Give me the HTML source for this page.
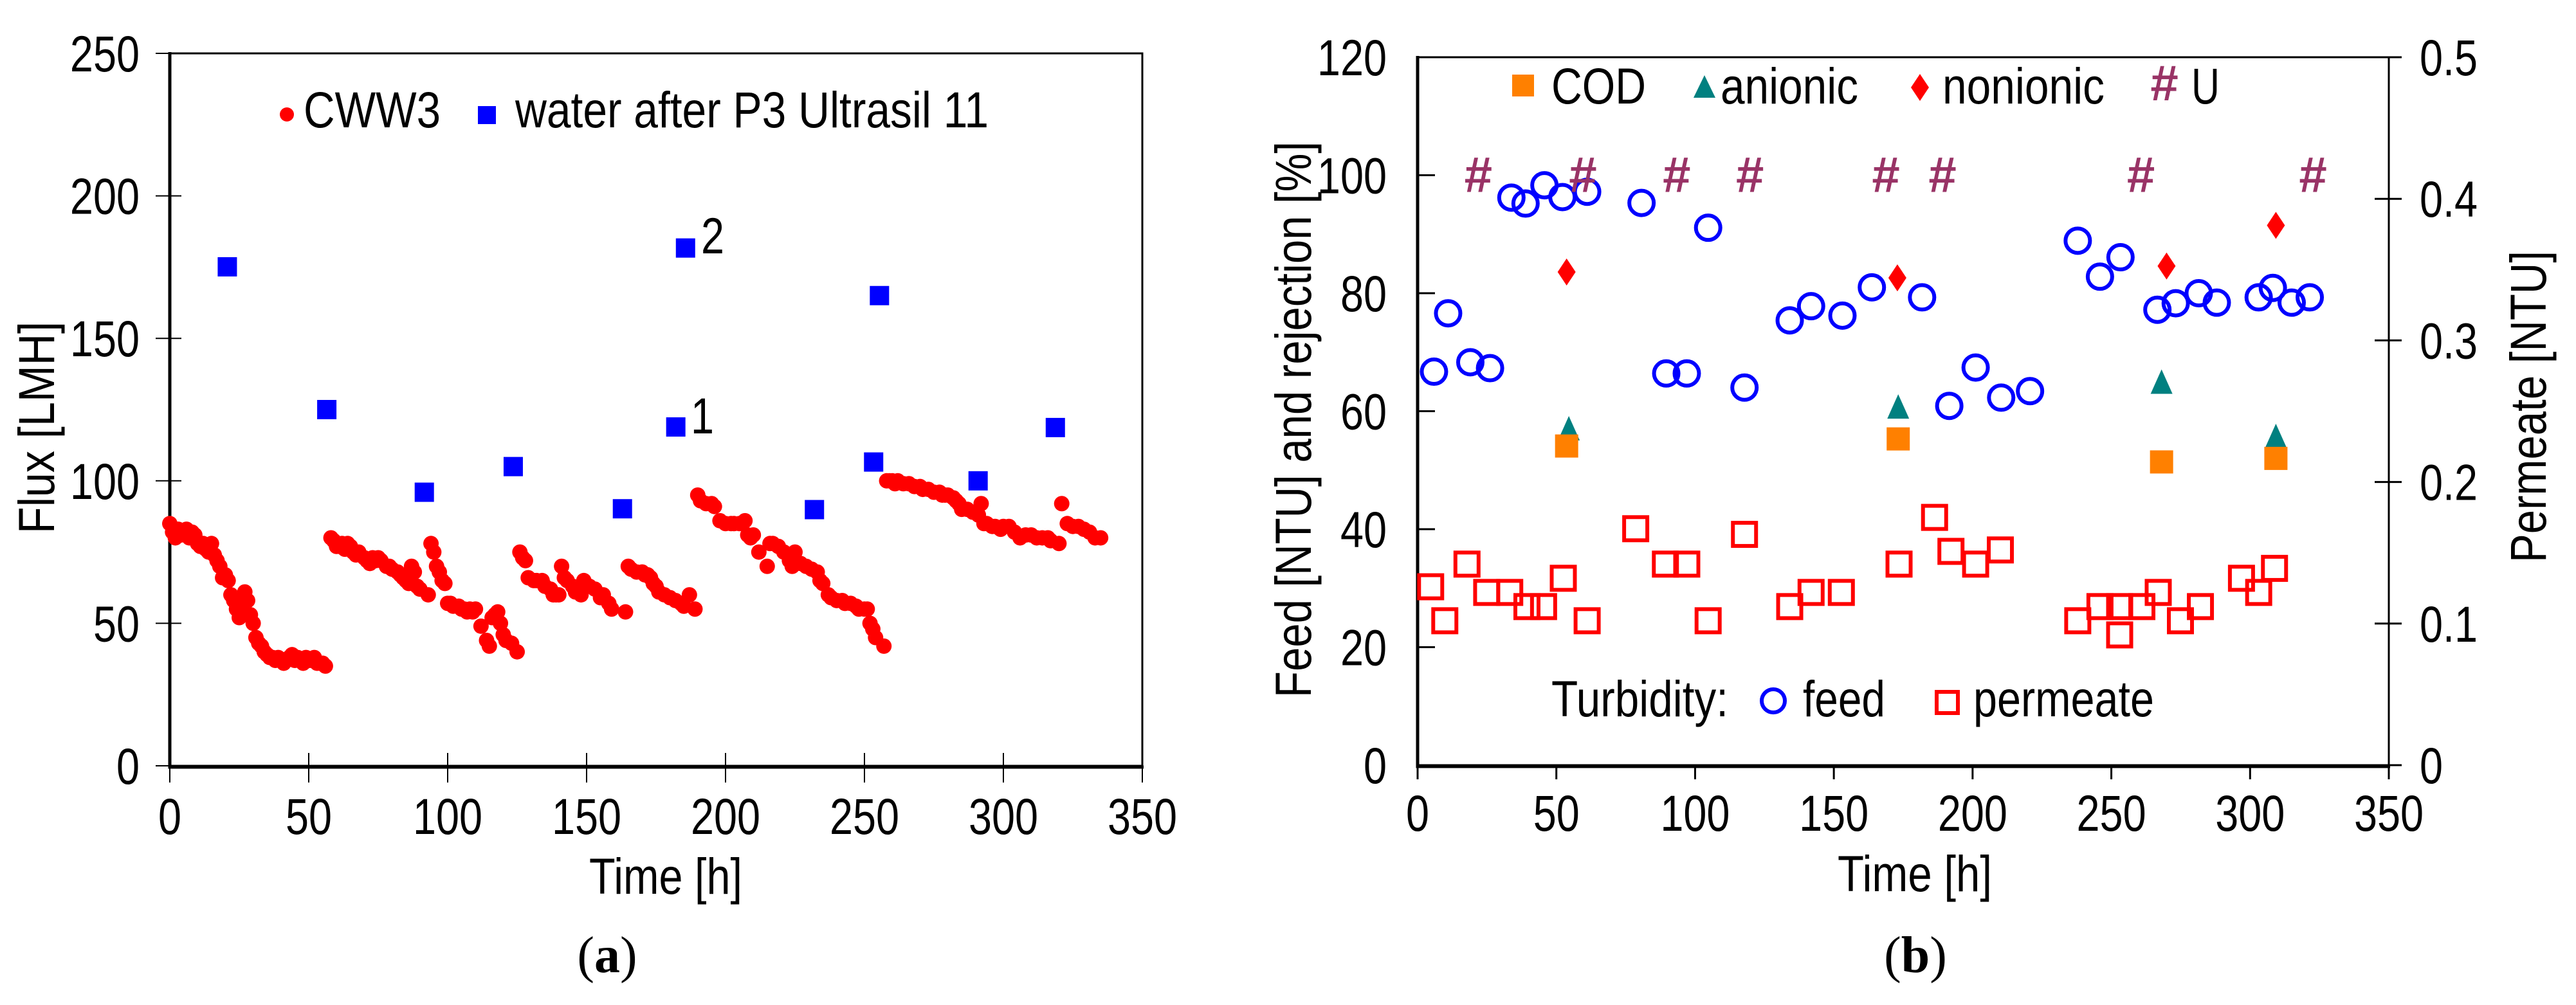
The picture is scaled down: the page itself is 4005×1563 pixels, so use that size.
<!DOCTYPE html>
<html><head><meta charset="utf-8"><style>
html,body{margin:0;padding:0;background:#fff;}
svg{display:block;font-family:"Liberation Sans",Arial,sans-serif;}
</style></head><body>
<svg id="fig" width="4005" height="1563" viewBox="0 0 4005 1563" xmlns="http://www.w3.org/2000/svg">
<rect x="0" y="0" width="4005" height="1563" fill="#fff"/>
<g id="gA"></g>
<g id="gB"></g>
</svg>
<script>
// ---------- Chart A data ----------
const aXTicks = [0,50,100,150,200,250,300,350];
const aYTicks = [0,50,100,150,200,250];
const waterTime = [20.7,56.5,91.6,123.6,162.9,182.1,185.6,232.0,253.3,255.4,290.9,318.7];
const waterFlux = [175.1,125.0,96.0,105.0,90.2,118.9,181.7,89.9,106.6,165.0,100.0,118.7];
const cwwTime = [0,1,2,3,4,5,6,7,8,9,10,11,12,13,14,15,16,17,18,19,20,21,22,23,24,25,26,27,28,29,30,31,32,33,34,35,36,37,38,39,40,41,42,43,44,45,46,47,48,49,50,51,52,53,54,55,56,
58,59,60,61,62,63,64,65,66,67,68,70,71,72,73,74,75,76,78,79,80,82,83,84,85,86,87,88,89,90,
93,94,95,96,97,98,99,100,101,102,104,105,106,107,108,109,110,112,114,115,116,117,118,119,120,121,123,
125,126,127,128,129,131,132,134,135,137,138,139,140,141,142,143,145,146,148,149,151,153,155,156,158,159,
164,165,166,168,170,171,172,173,174,175,176,178,180,182,184,185,187,
189,190,191,193,195,196,198,200,202,203,205,207,208,209,210,212,215,216,217,219,221,223,224,225,227,229,231,233,234,235,237,238,240,242,243,245,247,248,250,251,252,253,254,
257,258,259,260,261,262,264,266,268,270,271,273,275,277,278,279,280,282,283,284,285,287,289,291,292,293,294,296,297,299,300,302,304,306,308,310,312,314,316,317,
320,321,323,325,327,329,331,333,335];
const cwwFlux = [85,82,80,83,81,82,83,80,82,81,78,77,78,76,75,78,74,72,70,66,67,65,60,58,55,52,57,61,58,53,50,45,43,42,40,39,38,38,37,38,37,36,37,38,39,37,38,37,36,38,37,37,38,36,36,36,35,
80,79,77,77,78,76,78,77,75,74,75,73,72,71,73,72,73,72,70,70,69,68,67,66,65,64,70,68,63,62,60,
78,75,70,68,65,64,57,57,56,56,55,55,54,55,54,55,49,44,42,52,53,54,50,46,44,43,40,
75,73,72,66,65,65,65,63,62,60,60,60,70,66,65,63,61,60,65,63,62,59,60,57,55,54,
70,69,68,68,67,67,66,64,63,61,60,59,58,57,56,60,55,
95,93,92,92,91,86,85,85,85,85,86,81,80,81,75,70,78,78,77,75,72,70,75,71,70,69,68,65,64,60,59,58,58,57,57,56,55,55,55,50,48,45,42,
100,100,100,99,100,99,99,98,98,97,97,96,96,95,95,95,94,93,92,90,90,89,88,92,85,85,84,84,83,84,84,82,80,81,81,80,80,80,79,78,
92,85,84,84,83,82,80,80,80];

// ---------- Chart B data ----------
const bXTicks = [0,50,100,150,200,250,300,350];
const bYTicks = [0,20,40,60,80,100,120];
const bY2Ticks = [0,0.1,0.2,0.3,0.4,0.5];
const feedTime = [5.9,11.0,19.0,26.1,33.8,38.9,45.7,52.2,61.1,80.7,89.6,97.0,104.7,117.8,134.1,141.8,153.1,163.7,181.8,191.6,201.1,210.3,220.7,237.9,245.9,253.3,266.6,273.2,281.5,288.0,303.1,308.2,315.0,321.5];
const feedNTU = [66.7,76.6,68.3,67.3,96.2,95.2,98.3,96.3,97.2,95.3,66.4,66.4,91.1,64.0,75.4,77.8,76.2,81.0,79.3,60.9,67.4,62.3,63.4,88.9,82.8,86.1,77.2,78.3,80.0,78.4,79.3,80.9,78.4,79.3];
const permTime = [4.7,9.8,17.8,24.9,33.2,39.4,45.4,52.5,61.1,78.6,89.3,97.0,104.7,117.8,134.1,141.8,152.7,173.5,186.3,192.2,201.1,210.0,237.9,245.9,253.0,253.0,261.0,266.9,274.9,282.1,296.9,303.1,308.8];
const permNTU = [0.126,0.102,0.142,0.122,0.122,0.112,0.112,0.132,0.102,0.167,0.142,0.142,0.102,0.163,0.112,0.122,0.122,0.142,0.175,0.151,0.142,0.152,0.102,0.112,0.112,0.092,0.112,0.122,0.102,0.112,0.132,0.122,0.139];
const codTime = [53.7,173.2,268.1,309.3];
const codRej = [54.1,55.3,51.4,52.0];
const anionicTime = [54.5,173.2,268.1,309.3];
const anionicRej = [57.0,60.7,64.9,55.7];
const nonionicTime = [53.7,172.9,269.9,309.3];
const nonionicRej = [83.6,82.6,84.6,91.5];
const uTime = [21.6,59.3,93.1,119.5,168.5,188.9,260.4,322.4];
const uRej = [100,100,100,100,100,100,100,100];

const NS = "http://www.w3.org/2000/svg";
function mk(parent, tag, attrs){
  const e = document.createElementNS(NS, tag);
  for (const k in attrs) e.setAttribute(k, attrs[k]);
  parent.appendChild(e);
  return e;
}
function txt(parent, x, y, s, anchor, size, sx, rot){
  const t = mk(parent, "text", {x:0, y:0, "font-size":size, "text-anchor":anchor, fill:"#000",
    transform:`translate(${x},${y}) rotate(${rot||0}) scale(${sx},1)`});
  t.textContent = s;
  return t;
}
const FS = 79;

// ---------- Chart A ----------
const gA = document.getElementById("gA");
const aX = v => 264 + v/350*(1776-264);
const aY = v => 1191 - v/250*(1191-83);
{
  const f = mk(gA, "rect", {x:264, y:83, width:1512, height:1108, fill:"none", stroke:"#000", "stroke-width":3});
  
  
  const ax = mk(gA, "path", {d:"M264 81 V1193 H1778", fill:"none", stroke:"#000", "stroke-width":5});
  
  
  aXTicks.forEach(v => {
    const l = mk(gA, "line", {x1:aX(v), x2:aX(v), y1:1171, y2:1217, stroke:"#000", "stroke-width":2});
    
    
    const t = txt(gA, aX(v), 1297, String(v), "middle", FS, 0.82);
    
    
  });
  aYTicks.forEach(v => {
    const l = mk(gA, "line", {x1:242, x2:282, y1:aY(v), y2:aY(v), stroke:"#000", "stroke-width":2});
    
    
    const t = txt(gA, 217, aY(v)+28, String(v), "end", FS, 0.82);
    
    
  });
  cwwTime.forEach((v,i) => {
    const c = mk(gA, "circle", {cx:aX(v), cy:aY(cwwFlux[i]), r:12, fill:"#ff0000"});
    
    
  });
  waterTime.forEach((v,i) => {
    const r = mk(gA, "rect", {x:aX(v)-15, y:aY(waterFlux[i])-15, width:30, height:30, fill:"#0000ff"});
    
    
  });
  let t;
  t = txt(gA, 1108, 394, "2", "middle", FS, 0.82);
  
  
  t = txt(gA, 1092, 674, "1", "middle", FS, 0.82);
  
  
  const lc = mk(gA, "circle", {cx:446, cy:178, r:11, fill:"#ff0000"});
  
  
  t = mk(gA, "text", {x:472, y:198, "font-size":FS, textLength:213, lengthAdjust:"spacingAndGlyphs"});
  t.textContent = "CWW3";
  
  
  const ls = mk(gA, "rect", {x:743, y:165, width:28, height:28, fill:"#0000ff"});
  
  
  t = mk(gA, "text", {x:801, y:198, "font-size":FS, textLength:736, lengthAdjust:"spacingAndGlyphs"});
  t.textContent = "water after P3 Ultrasil 11";
  
  
  t = mk(gA, "text", {x:916, y:1390, "font-size":FS, textLength:238, lengthAdjust:"spacingAndGlyphs"});
  t.textContent = "Time [h]";
  
  
  t = mk(gA, "text", {x:0, y:0, "font-size":FS, textLength:330, lengthAdjust:"spacingAndGlyphs", transform:"translate(84,830) rotate(-90)"});
  t.textContent = "Flux [LMH]";
  
  
  t = mk(gA, "text", {x:944, y:1512, "font-size":80, "text-anchor":"middle", "font-family":"Liberation Serif, serif"});
  t.innerHTML = '(<tspan font-weight="bold">a</tspan>)';
  
  
}

// ---------- Chart B ----------
const gB = document.getElementById("gB");
const bX = v => 2204 + v/350*(3714-2204);
const bY = v => 1190 - v/120*(1190-89);
const bY2 = v => 1190 - v/0.5*(1190-89);
{
  const f = mk(gB, "rect", {x:2204, y:89, width:1510, height:1101, fill:"none", stroke:"#000", "stroke-width":3});
  
  
  const ax = mk(gB, "path", {d:"M2204 87 V1192 H3716", fill:"none", stroke:"#000", "stroke-width":5});
  
  
  bXTicks.forEach(v => {
    const l = mk(gB, "line", {x1:bX(v), x2:bX(v), y1:1190, y2:1212, stroke:"#000", "stroke-width":3});
    
    
    const t = txt(gB, bX(v), 1292, String(v), "middle", FS, 0.82);
    
    
  });
  bYTicks.forEach(v => {
    const l = mk(gB, "line", {x1:2204, x2:2231, y1:bY(v), y2:bY(v), stroke:"#000", "stroke-width":3});
    
    
    const t = txt(gB, 2156, bY(v)+28, String(v), "end", FS, 0.82);
    
    
  });
  bY2Ticks.forEach(v => {
    const l = mk(gB, "line", {x1:3692, x2:3734, y1:bY2(v), y2:bY2(v), stroke:"#000", "stroke-width":3});
    
    
    const t = txt(gB, 3762, bY2(v)+28, String(v), "start", FS, 0.82);
    
    
  });
  feedTime.forEach((v,i) => {
    const c = mk(gB, "circle", {cx:bX(v), cy:bY(feedNTU[i]), r:19, fill:"none", stroke:"#0000ff", "stroke-width":6});
    
    
  });
  permTime.forEach((v,i) => {
    const r = mk(gB, "rect", {x:bX(v)-18, y:bY2(permNTU[i])-18, width:36, height:36, fill:"none", stroke:"#ff0000", "stroke-width":6});
    
    
  });
  anionicTime.forEach((v,i) => {
    const x = bX(v), y = bY(anionicRej[i]);
    const p = mk(gB, "polygon", {points:`${x},${y-20} ${x+17},${y+18} ${x-17},${y+18}`, fill:"#008080"});
    
    
  });
  codTime.forEach((v,i) => {
    const r = mk(gB, "rect", {x:bX(v)-18, y:bY(codRej[i])-18, width:36, height:36, fill:"#ff8000"});
    
    
  });
  nonionicTime.forEach((v,i) => {
    const x = bX(v), y = bY(nonionicRej[i]);
    const p = mk(gB, "polygon", {points:`${x},${y-21} ${x+14},${y} ${x},${y+21} ${x-14},${y}`, fill:"#ff0000"});
    
    
  });
  uTime.forEach((v,i) => {
    const t = mk(gB, "text", {x:bX(v), y:bY(uRej[i])+26, "font-size":78, "font-weight":"bold", "font-style":"italic", "text-anchor":"middle", fill:"#993366"});
    t.textContent = "#";
    
    
  });
  let e;
  e = mk(gB, "rect", {x:2351, y:116, width:34, height:34, fill:"#ff8000"});
   
  e = mk(gB, "text", {x:2412, y:161, "font-size":FS, textLength:147, lengthAdjust:"spacingAndGlyphs"}); e.textContent = "COD";
   
  e = mk(gB, "polygon", {points:"2650,117 2667,152 2633,152", fill:"#008080"});
   
  e = mk(gB, "text", {x:2675, y:161, "font-size":FS, textLength:214, lengthAdjust:"spacingAndGlyphs"}); e.textContent = "anionic";
   
  e = mk(gB, "polygon", {points:"2985,115 2999,136 2985,157 2971,136", fill:"#ff0000"});
   
  e = mk(gB, "text", {x:3020, y:161, "font-size":FS, textLength:252, lengthAdjust:"spacingAndGlyphs"}); e.textContent = "nonionic";
   
  e = mk(gB, "text", {x:3364, y:156, "font-size":78, "font-weight":"bold", "font-style":"italic", "text-anchor":"middle", fill:"#993366"}); e.textContent = "#";
   
  e = mk(gB, "text", {x:3407, y:161, "font-size":FS, textLength:44, lengthAdjust:"spacingAndGlyphs"}); e.textContent = "U";
   
  e = mk(gB, "text", {x:2412, y:1114, "font-size":FS, textLength:275, lengthAdjust:"spacingAndGlyphs"}); e.textContent = "Turbidity:";
   
  e = mk(gB, "circle", {cx:2757, cy:1090, r:18, fill:"none", stroke:"#0000ff", "stroke-width":6});
   
  e = mk(gB, "text", {x:2803, y:1114, "font-size":FS, textLength:128, lengthAdjust:"spacingAndGlyphs"}); e.textContent = "feed";
   
  e = mk(gB, "rect", {x:3011, y:1076, width:33, height:33, fill:"none", stroke:"#ff0000", "stroke-width":6});
   
  e = mk(gB, "text", {x:3068, y:1114, "font-size":FS, textLength:281, lengthAdjust:"spacingAndGlyphs"}); e.textContent = "permeate";
   
  e = mk(gB, "text", {x:2857, y:1386, "font-size":FS, textLength:240, lengthAdjust:"spacingAndGlyphs"}); e.textContent = "Time [h]";
   
  e = mk(gB, "text", {x:0, y:0, "font-size":FS, textLength:865, lengthAdjust:"spacingAndGlyphs", transform:"translate(2038,1085) rotate(-90)"}); e.textContent = "Feed [NTU] and rejection [%]";
   
  e = mk(gB, "text", {x:0, y:0, "font-size":FS, textLength:485, lengthAdjust:"spacingAndGlyphs", transform:"translate(3958,875) rotate(-90)"}); e.textContent = "Permeate [NTU]";
   
  e = mk(gB, "text", {x:2978, y:1512, "font-size":80, "text-anchor":"middle", "font-family":"Liberation Serif, serif"});
  e.innerHTML = '(<tspan font-weight="bold">b</tspan>)';
   
}
</script>
</body></html>
